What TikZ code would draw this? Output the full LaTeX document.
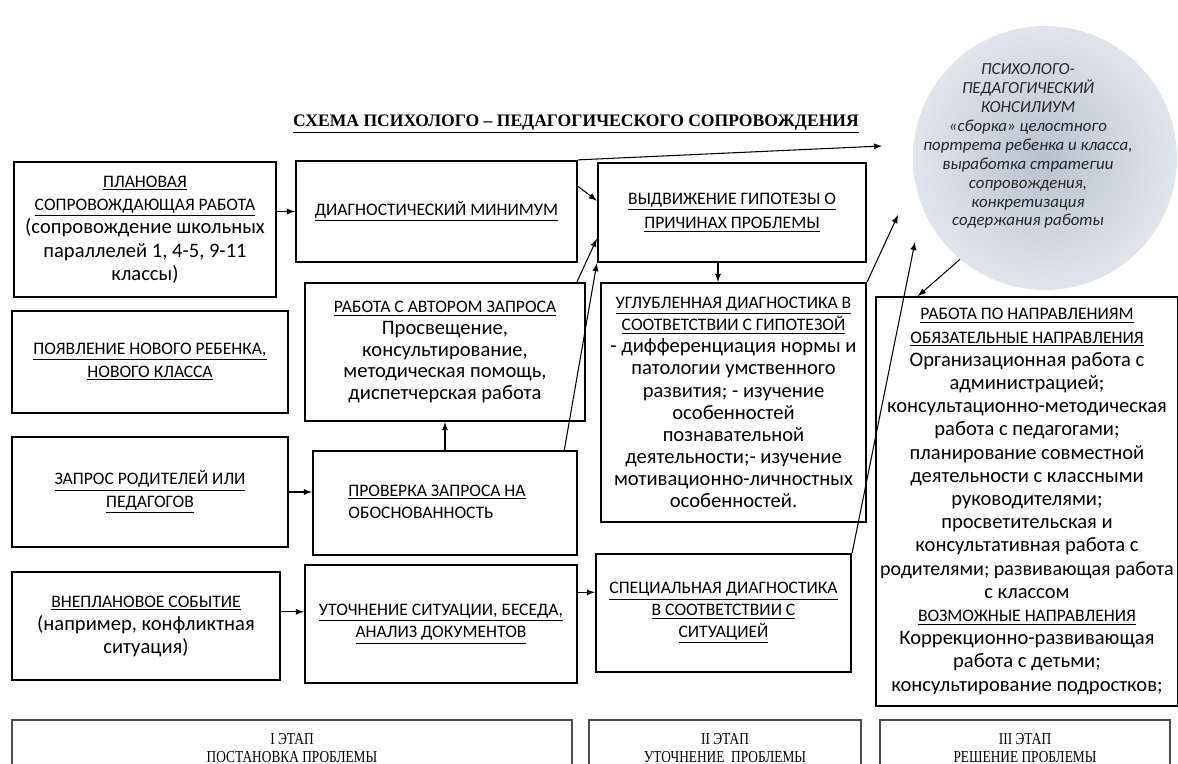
\documentclass[tikz,border=0pt]{standalone}
\usepackage{fontspec}
\setmainfont{Carlito}
\newfontfamily\serifcyr{Liberation Serif}
\newfontfamily\stagefont[FakeStretch=0.8]{Liberation Serif}
\usepackage{tikz}
\usetikzlibrary{shapes,arrows,positioning}
\usepackage[dvipsnames]{xcolor}
\newdimen\px \px=0.02cm
\newcommand{\hdsize}{\fontsize{10}{12.8}\selectfont}
\newcommand{\bdsize}{\fontsize{11.7}{12.8}\selectfont}
\newcommand{\uln}[1]{\underline{#1}}
\definecolor{konsilgray}{RGB}{184,194,206}
\definecolor{konsilpale}{RGB}{224,229,236}

\begin{document}
\begin{tikzpicture}[x=0.02cm, y=-0.02cm,
  box/.style={draw, line width=1.3pt, align=center, inner sep=1pt, font=\hdsize},
  stagebox/.style={draw=black!70, line width=0.8pt, align=center, font=\stagefont\fontsize{9.5}{9.8}\selectfont},
  konsiltext/.style={align=center, text=black!85, font=\itshape\fontsize{9.6}{10.8}\selectfont}]
\useasboundingbox (0,0) rectangle (1178,764);

\node[font=\serifcyr\bfseries\fontsize{10}{12}\selectfont] (title) at (576,124) {\uln{СХЕМА ПСИХОЛОГО – ПЕДАГОГИЧЕСКОГО СОПРОВОЖДЕНИЯ}};

\node[circle, minimum size=264\px, inner sep=0pt, shading=radial, inner color=konsilgray, outer color=konsilpale] (konsil) at (1045,158) {};
\node[konsiltext] (konsiltxt) at (1028,146) {ПСИХОЛОГО-\\ ПЕДАГОГИЧЕСКИЙ\\ КОНСИЛИУМ\\ «сборка» целостного\\ портрета ребенка и класса,\\ выработка стратегии\\ сопровождения,\\ конкретизация\\ содержания работы};
%============
\node[box, minimum width=262\px, minimum height=135\px, font=\fontsize{10}{13.3}\selectfont] (plan) at (145,229.5) {\uln{ПЛАНОВАЯ}\\ \uln{СОПРОВОЖДАЮЩАЯ РАБОТА}\\ {\bdsize (сопровождение школьных}\\ {\bdsize параллелей 1, 4-5, 9-11}\\ {\bdsize классы)}};
\node[box, minimum width=276\px, minimum height=102\px] (novyj) at (150,362) {\uln{ПОЯВЛЕНИЕ НОВОГО РЕБЕНКА,}\\ \uln{НОВОГО КЛАССА}};
\node[box, minimum width=276\px, minimum height=110\px] (zapros) at (150,492) {\uln{ЗАПРОС РОДИТЕЛЕЙ ИЛИ}\\ \uln{ПЕДАГОГОВ}};
\node[box, minimum width=268\px, minimum height=108\px, font=\fontsize{10}{13.1}\selectfont] (vneplan) at (146,626) {\uln{ВНЕПЛАНОВОЕ СОБЫТИЕ}\\ {\bdsize (например, конфликтная}\\ {\bdsize ситуация)}};
%============
\node[box, minimum width=281\px, minimum height=101\px] (diagmin) at (436.5,211.5) {\uln{ДИАГНОСТИЧЕСКИЙ МИНИМУМ}};
\node[box, minimum width=280\px, minimum height=138\px, font=\fontsize{10}{12.4}\selectfont] (avtor) at (445,352) {\uln{РАБОТА С АВТОРОМ ЗАПРОСА}\\ {\bdsize Просвещение,}\\ {\bdsize консультирование,}\\ {\bdsize методическая помощь,}\\ {\bdsize диспетчерская работа}};
\node[box, minimum width=264\px, minimum height=104\px] (proverka) at (445,503) {\begin{tabular}{@{}l@{}}\uln{ПРОВЕРКА ЗАПРОСА НА}\\ ОБОСНОВАННОСТЬ\end{tabular}\hspace{16\px}};
\node[box, minimum width=272\px, minimum height=118\px] (utoch) at (441,624) {\uln{УТОЧНЕНИЕ СИТУАЦИИ, БЕСЕДА,}\\ \uln{АНАЛИЗ ДОКУМЕНТОВ}};
%============
\node[box, minimum width=268\px, minimum height=99\px, font=\fontsize{10}{13.8}\selectfont] (hypoth) at (732,212.5) {\uln{ВЫДВИЖЕНИЕ ГИПОТЕЗЫ О}\\ \uln{ПРИЧИНАХ ПРОБЛЕМЫ}};
\node[box, minimum width=265\px, minimum height=239\px, font=\fontsize{10}{12.6}\selectfont] (uglub) at (733.5,402.5) {\uln{УГЛУБЛЕННАЯ ДИАГНОСТИКА В}\\ \uln{СООТВЕТСТВИИ С ГИПОТЕЗОЙ}\\ {\bdsize - дифференциация нормы и}\\ {\bdsize патологии умственного}\\ {\bdsize развития; - изучение}\\ {\bdsize особенностей}\\ {\bdsize познавательной}\\ {\bdsize деятельности;- изучение}\\ {\bdsize мотивационно-личностных}\\ {\bdsize особенностей.}};
\node[box, minimum width=255\px, minimum height=118\px, font=\fontsize{10}{12.4}\selectfont] (specdiag) at (723.5,613) {\uln{СПЕЦИАЛЬНАЯ ДИАГНОСТИКА}\\ \uln{В СООТВЕТСТВИИ С}\\ \uln{СИТУАЦИЕЙ}};
%============
\node[box, line width=1pt, minimum width=302\px, minimum height=409\px, font=\fontsize{10}{13.2}\selectfont] (naprav) at (1027,501.5) {\uln{РАБОТА ПО НАПРАВЛЕНИЯМ}\\ \uln{ОБЯЗАТЕЛЬНЫЕ НАПРАВЛЕНИЯ}\\ {\bdsize Организационная работа с}\\ {\bdsize администрацией;}\\ {\bdsize консультационно-методическая}\\ {\bdsize работа с педагогами;}\\ {\bdsize планирование совместной}\\ {\bdsize деятельности с классными}\\ {\bdsize руководителями;}\\ {\bdsize просветительская и}\\ {\bdsize консультативная работа с}\\ {\fontsize{11.4}{12.8}\selectfont родителями; развивающая работа}\\ {\bdsize с классом}\\ \uln{ВОЗМОЖНЫЕ НАПРАВЛЕНИЯ}\\ {\bdsize Коррекционно-развивающая}\\ {\bdsize работа с детьми;}\\ {\bdsize консультирование подростков;}};
%============
\node[stagebox, minimum width=560\px, minimum height=56\px] (stageI) at (292,748) {I ЭТАП\\ ПОСТАНОВКА ПРОБЛЕМЫ};
\node[stagebox, minimum width=272\px, minimum height=56\px] (stageII) at (725,748) {II ЭТАП\\ УТОЧНЕНИЕ\ \ ПРОБЛЕМЫ};
\node[stagebox, minimum width=290\px, minimum height=56\px] (stageIII) at (1025,748) {III ЭТАП\\ РЕШЕНИЕ ПРОБЛЕМЫ};
%==========
\coordinate (tipA) at (882,146);
\coordinate (tipB) at (898,215);
\coordinate (tipC) at (915,242);
\coordinate (tipD) at (918,296);

\draw[->, semithick, >=latex] (plan.east |- diagmin.west) -- (diagmin.west);
\draw[->, semithick, >=latex] (zapros.east) -- (zapros.east -| proverka.west);
\draw[->, semithick, >=latex] (vneplan.6.8) -- (vneplan.6.8 -| utoch.west);
\draw[->, semithick, >=latex] (proverka.north) -- (avtor.south);
\draw[->, semithick, >=latex] (utoch.13.2) -- (utoch.13.2 -| specdiag.west);
\draw[->, semithick, >=latex] (diagmin.10.7) -- (hypoth.175.5);
\draw[->, semithick, >=latex] (avtor.28.3) -- (hypoth.191.6);
\draw[->, semithick, >=latex] (proverka.24) -- (hypoth.south west);
\draw[->, semithick, >=latex] ([xshift=-14\px]hypoth.south) -- ([xshift=-14\px]hypoth.south |- uglub.north);
\draw[->, semithick, >=latex] (diagmin.north east) -- (tipA);
\draw[->, semithick, >=latex] (uglub.north east) -- (tipB);
\draw[->, semithick, >=latex] (specdiag.north east) -- (tipC);
\draw[->, semithick, >=latex] (konsil.230) -- (tipD);
\end{tikzpicture}
\end{document}
